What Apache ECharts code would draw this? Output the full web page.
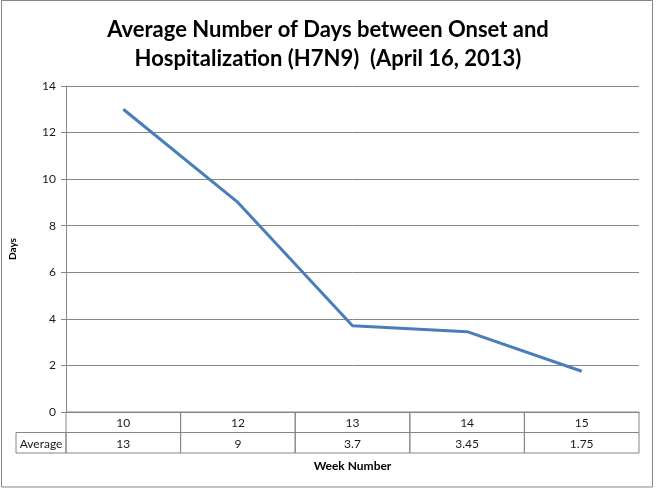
<!DOCTYPE html>
<html><head><meta charset="utf-8">
<script src="https://cdn.jsdelivr.net/npm/echarts@6/dist/echarts.min.js"></script>
<style>html,body{margin:0;padding:0;background:#fff}#c{width:656px;height:488px}</style>
</head><body><div id="c"></div>
<script>
var titleLines = ['Average Number of Days between Onset and', 'Hospitalization (H7N9)  (April 16, 2013)'];
var weeks = ['10', '12', '13', '14', '15'];
var averages = [13, 9, 3.7, 3.45, 1.75];
var averageLabels = ['13', '9', '3.7', '3.45', '1.75'];
var seriesName = 'Average';
var yTicks = [0, 2, 4, 6, 8, 10, 12, 14];
var xTitle = 'Week Number';
var yTitle = 'Days';

var font = 'Lato, "Open Sans", sans-serif';
var gridColor = '#868686';
var chart = echarts.init(document.getElementById('c'), null, {renderer: 'canvas'});

var tableData = [];
weeks.forEach(function (w, i) { tableData.push([i, 0, w]); });
averageLabels.forEach(function (v, i) { tableData.push([i, 1, v]); });

function cellRender(params, api) {
  var ci = api.value(0), ri = api.value(1);
  var txt = tableData[params.dataIndex][2];
  var c = api.coord([ci, ri]);
  var s = api.size([1, 1]);
  var x0 = c[0] - s[0] / 2, y0 = c[1] - s[1] / 2;
  var children = [
    {type: 'rect', shape: {x: x0, y: y0, width: s[0], height: s[1]},
     style: {fill: 'none', stroke: gridColor, lineWidth: 1}},
    {type: 'text', style: {text: txt, x: c[0], y: c[1] + 1, textAlign: 'center', textVerticalAlign: 'middle',
      font: '12px ' + font, fill: '#1a1a1a'}}
  ];
  if (ci === 0 && ri === 1) {
    children.push({type: 'rect', shape: {x: 16, y: y0, width: x0 - 16, height: s[1]},
      style: {fill: 'none', stroke: gridColor, lineWidth: 1}});
    children.push({type: 'text', style: {text: seriesName, x: (16 + x0) / 2, y: c[1] + 1, textAlign: 'center',
      textVerticalAlign: 'middle', font: '12px ' + font, fill: '#1a1a1a'}});
  }
  return {type: 'group', children: children};
}

chart.setOption({
  animation: false,
  title: {
    text: titleLines.join('\n'), left: 'center', top: 10,
    textStyle: {fontFamily: font, fontWeight: 'bold', fontSize: 22, lineHeight: 29, color: '#000'}
  },
  graphic: [{type: 'rect', shape: {x: 1.5, y: 0.5, width: 651, height: 486.5},
    style: {fill: 'none', stroke: gridColor, lineWidth: 1}, silent: true, z: -1}],
  grid: [
    {left: 66, right: 17, top: 86, bottom: 76, outerBoundsMode: 'none', containLabel: false},
    {left: 66, right: 17, top: 412, height: 41, outerBoundsMode: 'none', containLabel: false}
  ],
  xAxis: [
    {type: 'category', data: weeks, gridIndex: 0, boundaryGap: true,
     axisLine: {lineStyle: {color: gridColor}}, axisTick: {show: false}, axisLabel: {show: false}},
    {type: 'category', data: weeks, gridIndex: 1, boundaryGap: true,
     axisLine: {show: false}, axisTick: {show: false}, axisLabel: {show: false},
     name: xTitle, nameLocation: 'middle', nameGap: 7,
     nameTextStyle: {fontFamily: font, fontWeight: 'bold', fontSize: 12, color: '#000'}}
  ],
  yAxis: [
    {type: 'value', gridIndex: 0, min: 0, max: 14, interval: 2,
     axisLine: {show: true, lineStyle: {color: gridColor}},
     axisTick: {show: true, length: 5, lineStyle: {color: gridColor}},
     splitLine: {lineStyle: {color: gridColor}},
     axisLabel: {fontFamily: font, fontSize: 12, color: '#1a1a1a', margin: 10,
       formatter: function (v) { return yTicks.indexOf(v) >= 0 ? String(v) : ''; }},
     name: yTitle, nameLocation: 'middle', nameGap: 48, nameRotate: 90,
     nameTextStyle: {fontFamily: font, fontWeight: 'bold', fontSize: 10, color: '#000'}},
    {type: 'category', gridIndex: 1, data: ['w', 'a'], inverse: true,
     axisLine: {show: false}, axisTick: {show: false}, axisLabel: {show: false}, splitLine: {show: false}}
  ],
  series: [
    {type: 'line', name: seriesName, data: averages, xAxisIndex: 0, yAxisIndex: 0,
     showSymbol: false, symbol: 'none', lineStyle: {color: '#4a7ebb', width: 3}},
    {type: 'custom', xAxisIndex: 1, yAxisIndex: 1, clip: false,
     data: tableData.map(function (d) { return [d[0], d[1]]; }), renderItem: cellRender}
  ]
});
</script></body></html>
